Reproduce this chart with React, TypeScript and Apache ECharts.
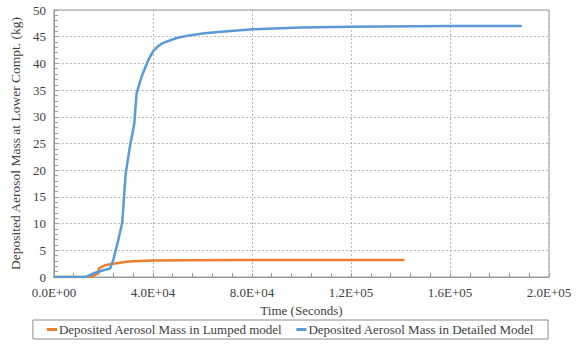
import React, { useEffect, useRef } from "react";
import * as echarts from "echarts";

const lumpedTime = [0, 14600, 18000, 18200, 20600, 24000, 30100, 39400, 55000, 75600, 100000, 141600];
const lumpedMass = [0, 0, 0.7, 1.6, 2.2, 2.5, 2.9, 3.1, 3.15, 3.18, 3.2, 3.2];

const detailedTime = [0, 12900, 16000, 19300, 22700, 24000, 26000, 27600, 29000, 30700, 32500, 33400, 35400, 38100, 40100, 42000, 44000, 46200, 50000, 54200, 60000, 66300, 80400, 99800, 119900, 160000, 189000];
const detailedMass = [0, 0, 0.69, 1.18, 1.6, 3.2, 6.9, 10.2, 19.4, 24.4, 28.8, 34.4, 37.5, 40.6, 42.3, 43.2, 43.8, 44.2, 44.8, 45.2, 45.6, 45.9, 46.4, 46.7, 46.85, 47.0, 47.0];

const seriesNames = ["Deposited Aerosol Mass in Lumped model", "Deposited Aerosol Mass in Detailed Model"];
const xTitle = "Time (Seconds)";
const yTitle = "Deposited Aerosol Mass at Lower Compt. (kg)";

const FONT = "'Liberation Serif', 'Times New Roman', Times, serif";

function sci(v: number): string {
  if (v === 0) return "0.0E+00";
  const e = Math.floor(Math.log10(Math.abs(v)));
  const m = v / Math.pow(10, e);
  const es = (e < 0 ? "-" : "+") + String(Math.abs(e)).padStart(2, "0");
  return m.toFixed(1) + "E" + es;
}

export default function App() {
  const ref = useRef<HTMLDivElement>(null);
  useEffect(() => {
    if (!ref.current) return;
    const chart = echarts.init(ref.current, undefined, { renderer: "svg" });
    const gridColor = "#b8b8b8";
    const axisColor = "#999999";
    const txt = "#404040";
    chart.setOption({
      animation: false,
      textStyle: { fontFamily: FONT },
      grid: {
        left: 52,
        right: 32,
        top: 10,
        bottom: 68,
        show: true,
        borderColor: axisColor,
        borderWidth: 1,
        backgroundColor: "transparent",
      },
      legend: {
        data: seriesNames,
        bottom: 6,
        left: "center",
        borderColor: "#8c8c8c",
        borderWidth: 1,
        padding: [3, 14, 3, 14],
        itemGap: 14,
        itemWidth: 10,
        itemHeight: 3,
        icon: "rect",
        textStyle: { fontFamily: FONT, fontSize: 13, color: txt, padding: [0, 0, 0, -3] },
      },
      xAxis: {
        type: "value",
        min: 0,
        max: 200000,
        interval: 40000,
        name: xTitle,
        nameLocation: "middle",
        nameGap: 24,
        nameTextStyle: { fontFamily: FONT, fontSize: 13, color: txt },
        axisLine: { show: true, lineStyle: { color: axisColor } },
        axisTick: { show: true, inside: true, length: 4, lineStyle: { color: axisColor } },
        minorTick: { show: true, splitNumber: 5, length: 4, lineStyle: { color: axisColor } },
        axisLabel: { formatter: (v: number) => sci(v), fontFamily: FONT, fontSize: 13, color: txt, margin: 9 },
        splitLine: { show: true, lineStyle: { color: gridColor, type: [2, 2], width: 1 } },
      },
      yAxis: {
        type: "value",
        min: 0,
        max: 50,
        interval: 5,
        name: yTitle,
        nameLocation: "middle",
        nameGap: 31,
        nameTextStyle: { fontFamily: FONT, fontSize: 13.5, color: txt },
        axisLine: { show: true, lineStyle: { color: axisColor } },
        axisTick: { show: true, inside: true, length: 4, lineStyle: { color: axisColor } },
        minorTick: { show: true, splitNumber: 5, length: 4, lineStyle: { color: axisColor } },
        axisLabel: { fontFamily: FONT, fontSize: 13, color: txt, margin: 8 },
        splitLine: { show: true, lineStyle: { color: gridColor, type: [2, 2], width: 1 } },
      },
      series: [
        {
          name: seriesNames[0],
          type: "line",
          data: lumpedTime.map((t, i) => [t, lumpedMass[i]]),
          showSymbol: false,
          smooth: false,
          lineStyle: { color: "#ED7D31", width: 2.5 },
          itemStyle: { color: "#ED7D31" },
          z: 3,
        },
        {
          name: seriesNames[1],
          type: "line",
          data: detailedTime.map((t, i) => [t, detailedMass[i]]),
          showSymbol: false,
          smooth: false,
          lineStyle: { color: "#5B9BD5", width: 2.5 },
          itemStyle: { color: "#5B9BD5" },
          z: 4,
        },
      ],
    });
    return () => chart.dispose();
  }, []);
  return <div ref={ref} style={{ width: 581, height: 345, position: "absolute", left: 0, top: 0 }} />;
}
